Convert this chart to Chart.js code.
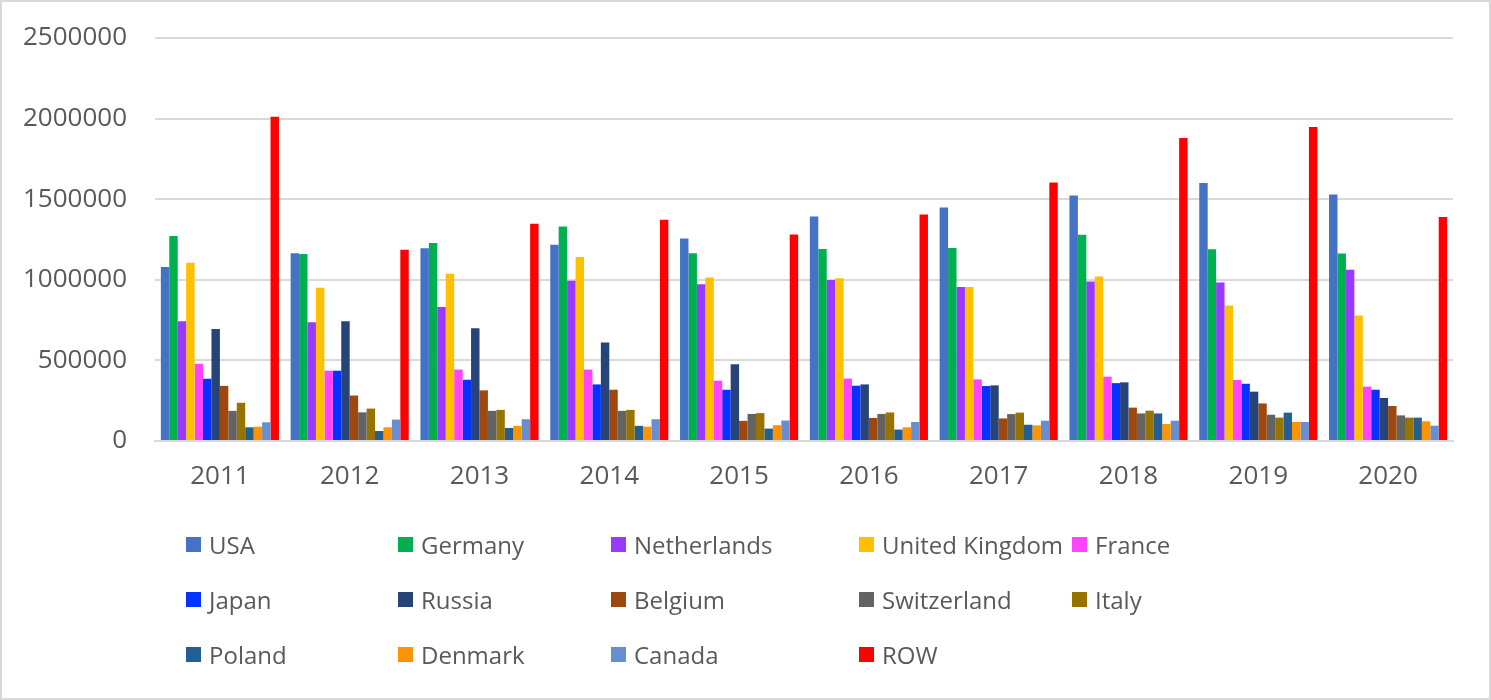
<!DOCTYPE html>
<html lang="en">
<head>
<meta charset="UTF-8">
<title>Exports by country</title>
<script src="https://cdn.jsdelivr.net/npm/chart.js"></script>
<style>
    html, body { margin: 0; padding: 0; background: #fff; }
    .wrap { position: relative; width: 1491px; height: 700px; overflow: hidden; font-family: "Open Sans", sans-serif; }
    .frame { position: absolute; left: 0; top: 0; width: 1491px; height: 700px; box-sizing: border-box; border: 2px solid #d9d9d9; pointer-events: none; }
    #legend { position: absolute; left: 186px; top: 527px; display: grid; grid-template-columns: 212px 213px 248px 213px 200px; grid-auto-rows: 55px; }
    #legend .item { display: flex; align-items: center; height: 34px; color: #595959; font-size: 24px; white-space: nowrap; }
    #legend .box { width: 15px; height: 15px; margin-right: 8px; flex: none; }
</style>
</head>
<body>
<div class="wrap">
    <canvas id="chart" width="1491" height="700"></canvas>
    <div id="legend"></div>
    <div class="frame"></div>
</div>
<script>
const years = ['2011', '2012', '2013', '2014', '2015', '2016', '2017', '2018', '2019', '2020'];
const countries = ['USA', 'Germany', 'Netherlands', 'United Kingdom', 'France', 'Japan', 'Russia',
    'Belgium', 'Switzerland', 'Italy', 'Poland', 'Denmark', 'Canada', 'ROW'];
const yTicks = [0, 500000, 1000000, 1500000, 2000000, 2500000];

const usa = [1080000, 1165000, 1195000, 1218000, 1256000, 1392000, 1448000, 1523000, 1601000, 1529000];
const germany = [1272000, 1160000, 1229000, 1331000, 1164000, 1191000, 1198000, 1279000, 1190000, 1163000];
const netherlands = [743000, 737000, 832000, 994000, 973000, 998000, 955000, 990000, 983000, 1062000];
const unitedKingdom = [1106000, 950000, 1037000, 1141000, 1015000, 1010000, 955000, 1021000, 841000, 779000];
const france = [479000, 436000, 443000, 443000, 374000, 387000, 382000, 399000, 378000, 337000];
const japan = [386000, 436000, 380000, 351000, 318000, 343000, 341000, 359000, 355000, 318000];
const russia = [695000, 743000, 700000, 611000, 476000, 351000, 345000, 364000, 306000, 267000];
const belgium = [342000, 282000, 314000, 318000, 125000, 143000, 140000, 207000, 233000, 217000];
const switzerland = [187000, 178000, 187000, 187000, 168000, 168000, 167000, 171000, 163000, 159000];
const italy = [237000, 201000, 193000, 193000, 173000, 177000, 176000, 188000, 145000, 145000];
const poland = [85000, 62000, 81000, 94000, 77000, 71000, 101000, 171000, 176000, 145000];
const denmark = [89000, 85000, 94000, 89000, 98000, 85000, 97000, 105000, 118000, 122000];
const canada = [116000, 133000, 135000, 135000, 127000, 118000, 126000, 126000, 118000, 95000];
const row = [2012000, 1187000, 1347000, 1372000, 1281000, 1405000, 1603000, 1880000, 1948000, 1390000];

const series = [usa, germany, netherlands, unitedKingdom, france, japan, russia,
    belgium, switzerland, italy, poland, denmark, canada, row];
const colors = ['#4472C4', '#00B050', '#9A3AFF', '#FFC000', '#FF43FF', '#0432FF', '#264478',
    '#9E480E', '#636363', '#997300', '#255E91', '#FF9300', '#698ED0', '#FF0000'];

const textColor = '#595959';
const gridColor = '#d9d9d9';

const datasets = countries.map((name, i) => ({
    label: name,
    data: series[i],
    backgroundColor: colors[i],
    borderWidth: 0,
    categoryPercentage: 0.91,
    barPercentage: 1.0
}));

const chart = new Chart(document.getElementById('chart'), {
    type: 'bar',
    data: { labels: years, datasets },
    options: {
        responsive: false,
        animation: false,
        devicePixelRatio: 1,
        layout: { padding: { top: 38, right: 38, left: 0, bottom: 0 } },
        plugins: {
            legend: { display: false },
            tooltip: { enabled: false }
        },
        scales: {
            x: {
                grid: { display: false, drawTicks: false },
                border: { color: gridColor, width: 2 },
                ticks: { color: textColor, font: { family: 'Open Sans', size: 26 }, padding: 20 },
                afterFit: s => { s.height = 259; }
            },
            y: {
                min: 0,
                max: 2500000,
                afterBuildTicks: s => { s.ticks = yTicks.map(v => ({ value: v })); },
                grid: { color: gridColor, lineWidth: 2, drawTicks: false },
                border: { display: false },
                ticks: {
                    color: textColor,
                    font: { family: 'Open Sans', size: 26 },
                    padding: 28,
                    callback: v => String(v)
                },
                // tick padding would otherwise push the plot top down
                afterFit: s => { s.width = 155; s.paddingTop = 0; s.paddingBottom = 0; }
            }
        }
    }
});

// legend laid out in columns like the original
const legendEl = document.getElementById('legend');
chart.data.datasets.forEach(ds => {
    const item = document.createElement('div');
    item.className = 'item';
    const box = document.createElement('span');
    box.className = 'box';
    box.style.background = ds.backgroundColor;
    item.appendChild(box);
    item.appendChild(document.createTextNode(ds.label));
    legendEl.appendChild(item);
});
</script>
</body>
</html>
